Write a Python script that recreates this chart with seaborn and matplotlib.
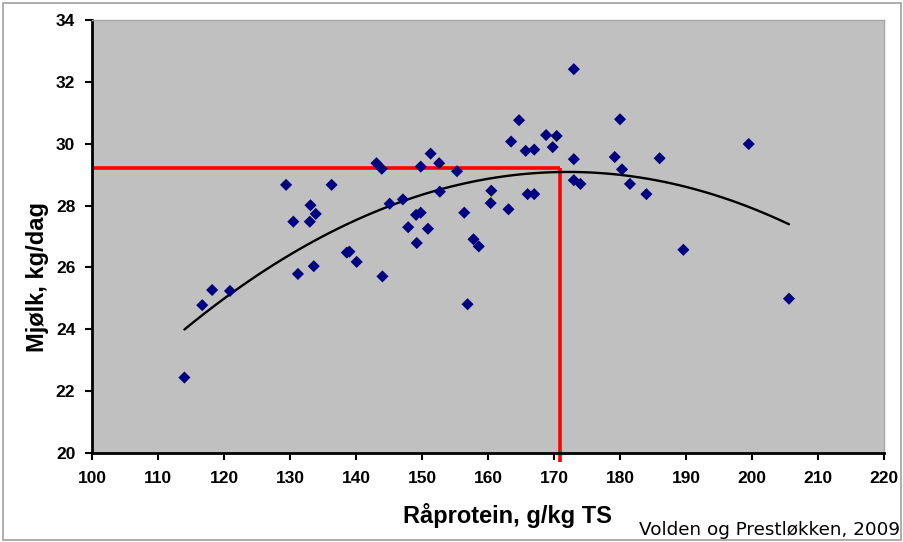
import matplotlib
matplotlib.use("Agg")
import matplotlib.pyplot as plt
import seaborn as sns
import pandas as pd
from matplotlib.patches import Rectangle

# Data
raaprotein = [114.0, 116.7, 118.2, 120.9, 129.4, 130.5, 131.2, 133.1, 133.0, 133.9,
              133.6, 136.3, 138.6, 139.0, 140.1, 143.1, 143.9, 144.0, 145.1, 147.1,
              147.9, 149.1, 149.8, 149.2, 149.8, 151.3, 152.6, 150.9, 152.7, 155.3,
              156.4, 156.9, 157.8, 158.6, 160.5, 160.4, 163.1, 163.5, 164.7, 165.7,
              167.0, 166.0, 167.0, 168.8, 170.4, 169.8, 173.0, 173.0, 173.0, 174.0,
              180.0, 179.2, 180.3, 181.5, 184.0, 186.0, 189.6, 199.5, 205.6]
mjolk = [22.44, 24.78, 25.27, 25.24, 28.67, 27.48, 25.79, 28.01, 27.48, 27.73,
         26.04, 28.67, 26.48, 26.51, 26.18, 29.37, 29.19, 25.71, 28.06, 28.20,
         27.30, 27.70, 27.77, 26.79, 29.26, 29.68, 29.37, 27.25, 28.45, 29.11,
         27.77, 24.81, 26.91, 26.68, 28.48, 28.08, 27.88, 30.07, 30.76, 29.77,
         29.81, 28.37, 28.37, 30.28, 30.25, 29.89, 32.41, 29.50, 28.82, 28.70,
         30.79, 29.57, 29.17, 28.70, 28.37, 29.53, 26.57, 29.99, 24.99]

optimum_x = 170.9
optimum_y = 29.2

x_ticks = list(range(100, 221, 10))
y_ticks = list(range(20, 35, 2))

df = pd.DataFrame({"x": raaprotein, "y": mjolk})

sns.set_style("white")
plt.rcParams["font.family"] = ["Liberation Sans", "DejaVu Sans"]
plt.rcParams["text.color"] = "black"
plt.rcParams["xtick.color"] = "black"
plt.rcParams["ytick.color"] = "black"

fig = plt.figure(figsize=(9.04, 5.42), dpi=100)
ax = fig.add_axes([0.1018, 0.1642, 0.8761, 0.7989])
ax.set_facecolor("#C0C0C0")

# Red guide lines
ax.plot([100, optimum_x], [optimum_y, optimum_y], color="#FF0000", lw=2.6,
        solid_capstyle="butt", zorder=2)
ax.plot([optimum_x, optimum_x], [optimum_y, 19.7], color="#FF0000", lw=2.6,
        solid_capstyle="butt", clip_on=False, zorder=2)

sns.regplot(data=df, x="x", y="y", order=2, ci=None, scatter=False, truncate=True,
            line_kws={"color": "black", "lw": 1.7, "zorder": 3}, ax=ax)
sns.scatterplot(data=df, x="x", y="y", marker="D", s=38, color="#000080",
                edgecolor="none", ax=ax, zorder=4)

ax.set_xlim(100, 220)
ax.set_ylim(20, 34)
ax.set_xticks(x_ticks)
ax.set_yticks(y_ticks)
ax.set_xticklabels([str(t) for t in x_ticks], fontsize=12.5, fontweight="bold")
ax.set_yticklabels([str(t) for t in y_ticks], fontsize=12.5, fontweight="bold")
ax.tick_params(axis="both", direction="out", length=5, width=1.5, color="black",
               labelcolor="black", bottom=True, left=True)
ax.tick_params(axis="x", pad=8)
ax.tick_params(axis="y", pad=7)
ax.set_xlabel("")
ax.set_ylabel("")

for side in ["left", "bottom"]:
    ax.spines[side].set_color("black")
    ax.spines[side].set_linewidth(2.0)
for side in ["top", "right"]:
    ax.spines[side].set_color("#A8A8A8")
    ax.spines[side].set_linewidth(1.0)

fig.text(0.041, 0.489, "Mjølk, kg/dag", rotation=90, ha="center", va="center",
         fontsize=17, fontweight="bold", color="black")
fig.text(0.561, 0.048, "Råprotein, g/kg TS", ha="center", va="center",
         fontsize=17, fontweight="bold", color="black")
fig.text(0.996, 0.022, "Volden og Prestløkken, 2009", ha="right", va="center",
         fontsize=13.2, family=["DejaVu Sans"], color="black")

fig.patches.append(Rectangle((0.003, 0.004), 0.994, 0.99, transform=fig.transFigure,
                             fill=False, edgecolor="#A0A0A0", lw=1.2))

fig.savefig("out.png", dpi=100, facecolor="white")
